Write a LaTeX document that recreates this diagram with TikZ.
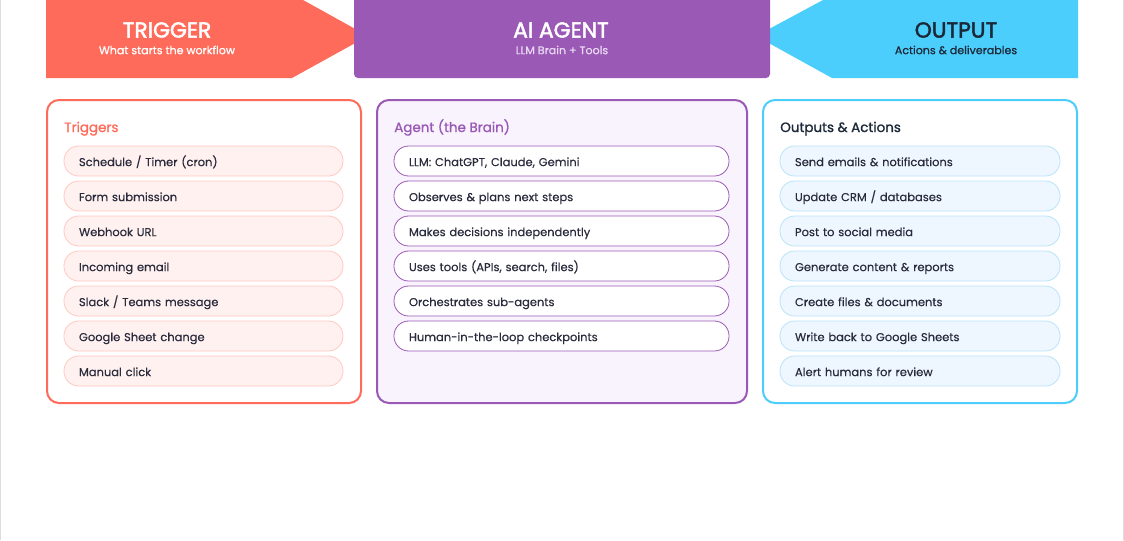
\documentclass[tikz,border=0pt]{standalone}
\usepackage{fontspec}
\setmainfont[FakeBold=0.4]{Poppins}
\newfontfamily\headfont[FakeBold=2.2]{Poppins}
\newfontfamily\titlefont[FakeBold=1.2]{Poppins}
\newfontfamily\subfont[FakeBold=0.8]{Poppins}
\definecolor{trig}{HTML}{FF6B5A}
\definecolor{agent}{HTML}{9B59B6}
\definecolor{outc}{HTML}{4CCEFC}
\definecolor{ink}{HTML}{2A2B3C}
\definecolor{navy}{HTML}{1B2838}
\definecolor{agentbg}{HTML}{F9F3FD}
\definecolor{trigpill}{HTML}{FFF1EF}
\definecolor{trigpillb}{HTML}{FFC9C1}
\definecolor{outpill}{HTML}{EEF7FF}
\definecolor{outpillb}{HTML}{B9E3FA}
\definecolor{agentsub}{HTML}{E8D8F2}
\definecolor{edge}{HTML}{DDDDDD}
\tikzset{
  panel/.style={draw, line width=1.5pt, rounded corners=9pt},
  pill/.style={rectangle, rounded corners=11pt, line width=0.6pt, inner xsep=11.25pt, inner ysep=0pt,
    minimum height=22.5pt, align=left, text=ink, font=\fontsize{8.6}{10}\selectfont,
    text height=1.75ex, text depth=0.35ex},
  trigitem/.style={pill, draw=trigpillb, fill=trigpill, text width=186.75pt},
  agentitem/.style={pill, draw=agent, fill=white, text width=228.75pt},
  outitem/.style={pill, draw=outpillb, fill=outpill, text width=187.5pt},
  headtitle/.style={font=\headfont\fontsize{16.3}{19}\selectfont, inner sep=0pt},
  headsub/.style={font=\subfont\fontsize{8.3}{10}\selectfont, inner sep=0pt},
  paneltitle/.style={anchor=base west, inner sep=0pt, font=\titlefont\fontsize{10.1}{12}\selectfont}
}
\begin{document}
\begin{tikzpicture}[x=0.75pt,y=-0.75pt]
\useasboundingbox (0,0) rectangle (1124,540);
\fill[white] (0,0) rectangle (1124,540);
\draw[edge, line width=0.75pt] (0.5,0) -- (0.5,540);
\draw[edge, line width=0.75pt] (1123.5,0) -- (1123.5,540);

% headers
\fill[trig] (46,0) -- (303,0) -- (368,36) -- (292,78) -- (46,78) -- cycle;
\fill[outc] (1078,0) -- (823,0) -- (756,36) -- (832,78) -- (1078,78) -- cycle;
\fill[agent, rounded corners=3pt] (354,-10) rectangle (770,78);

\node[headtitle, text=white] (trigT) at (167,30) {TRIGGER};
\node[headsub, text=white] (trigS) at (167,50) {What starts the workflow};
\node[headtitle, text=white] (agentT) at (561,30) {AI AGENT};
\node[headsub, text=agentsub] (agentS) at (562,50) {LLM Brain + Tools};
\node[headtitle, text=navy] (outT) at (956,30) {OUTPUT};
\node[headsub, text=navy] (outS) at (956,50) {Actions \& deliverables};

% panels
\draw[panel, draw=trig, fill=white] (47,100) rectangle (361,403);
\draw[panel, draw=agent, fill=agentbg] (377,100) rectangle (747,403);
\draw[panel, draw=outc, fill=white] (763,100) rectangle (1077,403);

\node[paneltitle, text=trig] (trigH) at (64,132) {Triggers};
\node[paneltitle, text=agent] (agentH) at (394,132) {Agent (the Brain)};
\node[paneltitle, text=navy] (outH) at (780,132) {Outputs \& Actions};

% trigger items
\node[trigitem] (t1) at (203.5,161) {Schedule / Timer (cron)};
\node[trigitem] (t2) at (203.5,196) {Form submission};
\node[trigitem] (t3) at (203.5,231) {Webhook URL};
\node[trigitem] (t4) at (203.5,266) {Incoming email};
\node[trigitem] (t5) at (203.5,301) {Slack / Teams message};
\node[trigitem] (t6) at (203.5,336) {Google Sheet change};
\node[trigitem] (t7) at (203.5,371) {Manual click};

% agent items
\node[agentitem] (a1) at (561.5,161) {LLM: ChatGPT, Claude, Gemini};
\node[agentitem] (a2) at (561.5,196) {Observes \& plans next steps};
\node[agentitem] (a3) at (561.5,231) {Makes decisions independently};
\node[agentitem] (a4) at (561.5,266) {Uses tools (APIs, search, files)};
\node[agentitem] (a5) at (561.5,301) {Orchestrates sub-agents};
\node[agentitem] (a6) at (561.5,336) {Human-in-the-loop checkpoints};

% output items
\node[outitem] (o1) at (920,161) {Send emails \& notifications};
\node[outitem] (o2) at (920,196) {Update CRM / databases};
\node[outitem] (o3) at (920,231) {Post to social media};
\node[outitem] (o4) at (920,266) {Generate content \& reports};
\node[outitem] (o5) at (920,301) {Create files \& documents};
\node[outitem] (o6) at (920,336) {Write back to Google Sheets};
\node[outitem] (o7) at (920,371) {Alert humans for review};
\end{tikzpicture}
\end{document}
